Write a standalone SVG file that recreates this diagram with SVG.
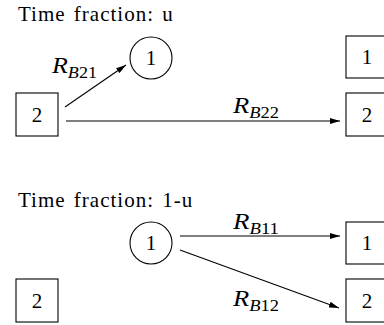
<svg xmlns="http://www.w3.org/2000/svg" width="384" height="325" viewBox="0 0 384 325">
<style>
.t{font-family:"Liberation Serif","Times New Roman",serif;font-size:21px;fill:#000;letter-spacing:1px;word-spacing:2px}
.d{font-family:"Liberation Serif","Times New Roman",serif;font-size:21px;fill:#000;text-anchor:middle}
.lb{font-family:"Liberation Serif","Times New Roman",serif;font-size:23px;font-style:italic;fill:#000}
.sub{font-size:16px}
.up{font-style:normal}
.n{fill:#fff;stroke:#000;stroke-width:1.1}
.e{stroke:#000;stroke-width:1.1;fill:none;marker-end:url(#ah)}
</style>
<defs>
<marker id="ah" viewBox="0 0 10 6" refX="10" refY="3" markerWidth="10" markerHeight="6" markerUnits="userSpaceOnUse" orient="auto">
<path d="M0,0 L10,3 L0,6 z" fill="#000"/>
</marker>
</defs>
<rect width="384" height="325" fill="#fff"/>
<text class="t" x="18" y="21">Time fraction: u</text>
<text class="t" x="18" y="207">Time fraction: 1-u</text>
<g id="top-c1"><circle class="n" cx="151" cy="58" r="21"/><text class="d" x="151" y="65">1</text></g>
<g id="top-l2"><rect class="n" x="16" y="93" width="42" height="43"/><text class="d" x="37" y="122">2</text></g>
<g id="top-r1"><rect class="n" x="346" y="36" width="42" height="42"/><text class="d" x="367" y="64">1</text></g>
<g id="top-r2"><rect class="n" x="346" y="93" width="42" height="43"/><text class="d" x="367" y="122">2</text></g>
<g id="bot-c1"><circle class="n" cx="151" cy="243" r="21"/><text class="d" x="151" y="250">1</text></g>
<g id="bot-l2"><rect class="n" x="16" y="279" width="42" height="43"/><text class="d" x="37" y="308">2</text></g>
<g id="bot-r1"><rect class="n" x="346" y="222" width="42" height="42"/><text class="d" x="367" y="250">1</text></g>
<g id="bot-r2"><rect class="n" x="346" y="279" width="42" height="43"/><text class="d" x="367" y="308">2</text></g>
<g id="connectors">
<line class="e" x1="65" y1="107" x2="126" y2="65"/>
<line class="e" x1="66" y1="121" x2="340" y2="121"/>
<line class="e" x1="180" y1="236" x2="340" y2="236"/>
<line class="e" x1="180" y1="250" x2="339" y2="308"/>
<text class="lb" x="52" y="73" textLength="45" lengthAdjust="spacingAndGlyphs">R<tspan class="sub" dy="5">B<tspan class="up">21</tspan></tspan></text>
<text class="lb" x="233" y="113" textLength="46" lengthAdjust="spacingAndGlyphs">R<tspan class="sub" dy="5">B<tspan class="up">22</tspan></tspan></text>
<text class="lb" x="233" y="229" textLength="46" lengthAdjust="spacingAndGlyphs">R<tspan class="sub" dy="5">B<tspan class="up">11</tspan></tspan></text>
<text class="lb" x="233" y="306" textLength="46" lengthAdjust="spacingAndGlyphs">R<tspan class="sub" dy="5">B<tspan class="up">12</tspan></tspan></text>
</g>
</svg>
